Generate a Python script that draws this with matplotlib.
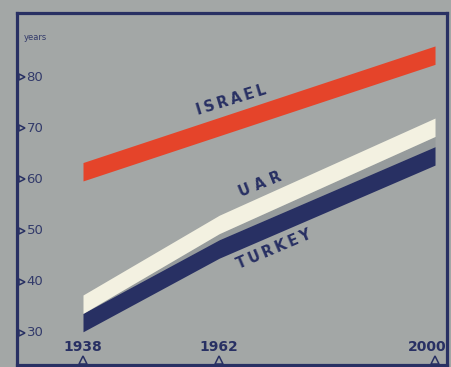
import numpy as np
import matplotlib.pyplot as plt
import matplotlib.transforms as mtransforms

# life expectancy (years) at the three benchmark dates
years = [1938, 1962, 2000]
israel_years = [1938, 2000]
israel = [61.5, 84.3]
uar = [35.6, 51.2, 70.2]
turkey = [32.0, 46.4, 64.6]

y_ticks = [30, 40, 50, 60, 70, 80]
x_ticks = [1938, 1962, 2000]

BG = '#a3a7a6'
NAVY = '#283063'
RED = '#e5442a'
CREAM = '#f3f1e1'
HALF = 1.8  # half thickness of each band, in years

fig = plt.figure(figsize=(4.51, 3.67), dpi=100, facecolor=BG)
ax = fig.add_axes([0.038, 0.006, 0.953, 0.958], facecolor=BG)
ax.set_xlim(1926.4, 2002.1)
ax.set_ylim(23.75, 92.5)

for side in ax.spines.values():
    side.set_color(NAVY)
    side.set_linewidth(2.3)
ax.set_xticks([])
ax.set_yticks([])


def band(xs, vals, color, z):
    v = np.array(vals, dtype=float)
    ax.fill_between(xs, v - HALF, v + HALF, color=color, lw=0, zorder=z)


# shadow strip between UAR and Turkey
ax.fill_between(years, np.array(turkey) + HALF, np.array(uar) - HALF,
                color='#969b9c', lw=0, zorder=1)
band(israel_years, israel, RED, 2)
band(years, turkey, NAVY, 2)
band(years, uar, CREAM, 3)

thin = '\u2009'
lbl = dict(color=NAVY, fontsize=10.5, fontweight='heavy', ha='center',
           va='center', family='DejaVu Sans')
ax.text(1964.2, 75.5, thin.join('ISRAEL'), rotation=17, **lbl)
ax.text(1969.2, 59.1, ' '.join('UAR'), rotation=22, **lbl)
ax.text(1971.6, 46.3, thin.join('TURKEY'), rotation=23, **lbl)

# left scale: labels with small pointer triangles
ytrans = mtransforms.blended_transform_factory(ax.transAxes, ax.transData)
for v in y_ticks:
    ax.plot(0.011, v, marker='>', ms=5, mfc=BG, mec=NAVY, mew=1.1,
            transform=ytrans, clip_on=False, zorder=5)
    ax.text(0.022, v, str(v), transform=ytrans, color='#323a6a',
            fontsize=9.5, ha='left', va='center')
ax.text(0.015, 0.93, 'years', transform=ax.transAxes, color='#323a6a',
        fontsize=6, ha='left', va='center')

# bottom scale
xtrans = mtransforms.blended_transform_factory(ax.transData, ax.transAxes)
for yr in x_ticks:
    xpos = yr - 1.3 if yr == 2000 else yr
    ax.text(xpos, 0.05, str(yr), transform=xtrans, color=NAVY,
            fontsize=10, fontweight='bold', ha='center', va='center',
            clip_on=False)
    ax.plot(yr, 0.014, marker='^', ms=6, mfc=BG, mec=NAVY, mew=1.1,
            transform=xtrans, clip_on=False, zorder=5)

fig.savefig('out.png', dpi=100, facecolor=BG)
